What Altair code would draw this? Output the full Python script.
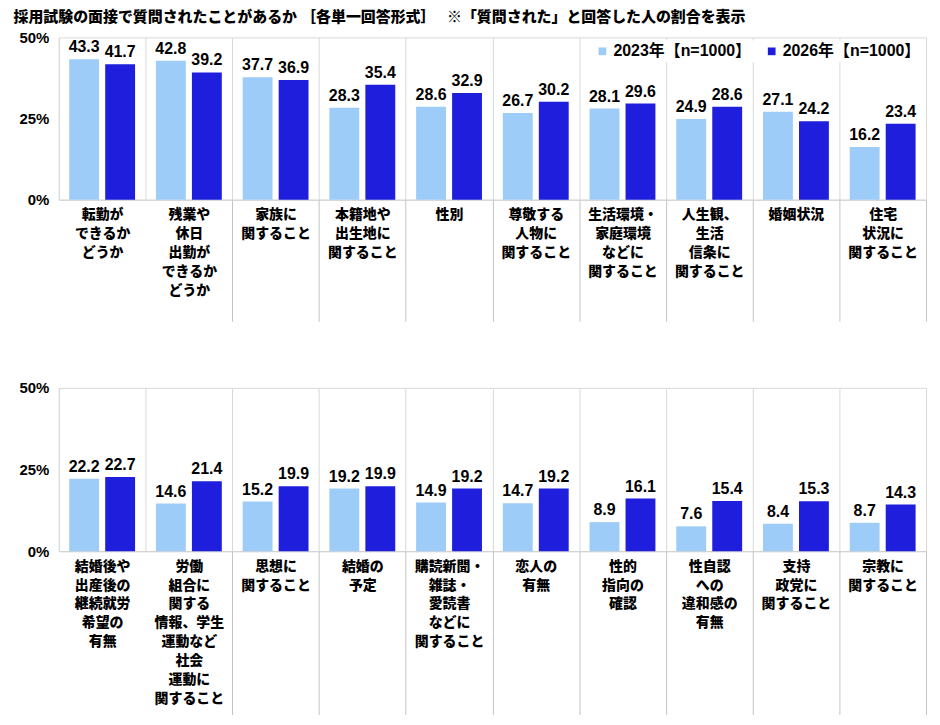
import altair as alt
import pandas as pd

FONT = "'Liberation Sans', 'Noto Sans CJK JP', sans-serif"

years = ["2023年【n=1000】", "2026年【n=1000】"]
colors = ["#9DCCF8", "#1E1EDC"]

top_items = [
    "転勤が|できるか|どうか",
    "残業や|休日|出勤が|できるか|どうか",
    "家族に|関すること",
    "本籍地や|出生地に|関すること",
    "性別",
    "尊敬する|人物に|関すること",
    "生活環境・|家庭環境|などに|関すること",
    "人生観、|生活|信条に|関すること",
    "婚姻状況",
    "住宅|状況に|関すること",
]
top_2023 = [43.3, 42.8, 37.7, 28.3, 28.6, 26.7, 28.1, 24.9, 27.1, 16.2]
top_2026 = [41.7, 39.2, 36.9, 35.4, 32.9, 30.2, 29.6, 28.6, 24.2, 23.4]

bottom_items = [
    "結婚後や|出産後の|継続就労|希望の|有無",
    "労働|組合に|関する|情報、学生|運動など|社会|運動に|関すること",
    "思想に|関すること",
    "結婚の|予定",
    "購読新聞・|雑誌・|愛読書|などに|関すること",
    "恋人の|有無",
    "性的|指向の|確認",
    "性自認|への|違和感の|有無",
    "支持|政党に|関すること",
    "宗教に|関すること",
]
bottom_2023 = [22.2, 14.6, 15.2, 19.2, 14.9, 14.7, 8.9, 7.6, 8.4, 8.7]
bottom_2026 = [22.7, 21.4, 19.9, 19.9, 19.2, 19.2, 16.1, 15.4, 15.3, 14.3]

title_text = "採用試験の面接で質問されたことがあるか ［各単一回答形式］　 ※「質問された」と回答した人の割合を表示"


def make_frame(items, a, b):
    rows = []
    for item, va, vb in zip(items, a, b):
        rows.append({"item": item, "year": years[0], "value": va})
        rows.append({"item": item, "year": years[1], "value": vb})
    return pd.DataFrame(rows)


def panel(items, a, b, tick_size, height, show_legend):
    df = make_frame(items, a, b)
    x = alt.X(
        "item:N", sort=items, title=None,
        scale=alt.Scale(paddingInner=0, paddingOuter=0),
        axis=alt.Axis(
            labelExpr="split(datum.label, '|')",
            labelAngle=0, labelFont=FONT, labelFontSize=14, labelFontWeight=900,
            labelColor="black", labelLineHeight=19, labelBaseline="top",
            labelPadding=8 - tick_size, labelLimit=0,
            tickBand="extent", tickSize=tick_size,
            tickColor={"condition": {"test": "datum.index <= 0 || datum.extra", "value": "transparent"},
                       "value": "#c4c4c4"},
            grid=True, gridColor="#d9d9d9", domainColor="#d0d0d0",
        ),
    )
    y = alt.Y(
        "value:Q", title=None,
        scale=alt.Scale(domain=[0, 50], nice=False),
        axis=alt.Axis(values=[0, 25, 50], labelExpr="datum.value + '%'", grid=False,
                      ticks=False, domain=False, labelFont=FONT, labelFontSize=15,
                      labelFontWeight="bold", labelColor="black", labelPadding=10),
    )
    if show_legend:
        legend = alt.Legend(title=None, orient="none", legendX=535, legendY=3,
                            direction="horizontal", symbolType="square", symbolSize=60,
                            symbolStrokeWidth=0, labelFont=FONT, labelFontSize=16,
                            labelFontWeight="bold", labelColor="black", labelLimit=0,
                            labelOffset=3, fillColor="white", padding=3, columnPadding=12)
    else:
        legend = None
    base = alt.Chart(df).encode(
        x=x,
        xOffset=alt.XOffset("year:N", sort=years,
                            scale=alt.Scale(paddingInner=0.17, paddingOuter=0.29)),
        y=y,
    )
    bars = base.mark_bar().encode(
        color=alt.Color("year:N", sort=years,
                        scale=alt.Scale(domain=years, range=colors), legend=legend)
    )
    text = base.mark_text(baseline="bottom", dy=-4, font=FONT, fontSize=16,
                          fontWeight="bold", color="black").encode(
        text=alt.Text("value:Q", format=".1f")
    )
    return (bars + text).properties(width=871, height=height)


top = panel(top_items, top_2023, top_2026, 122, 163, True)
bottom = panel(bottom_items, bottom_2023, bottom_2026, 164, 164, False)

chart = alt.vconcat(top, bottom, spacing=58).resolve_scale(color="independent").properties(
    title=alt.TitleParams(title_text, anchor="start", frame="bounds", font=FONT,
                          fontSize=15, fontWeight=900, color="black", dx=-5, offset=5),
    padding={"left": 5, "top": 0, "right": 5, "bottom": 0},
).configure_view(stroke="#d9d9d9")

chart.save("out.html", embed_options={"renderer": "svg", "actions": False})
